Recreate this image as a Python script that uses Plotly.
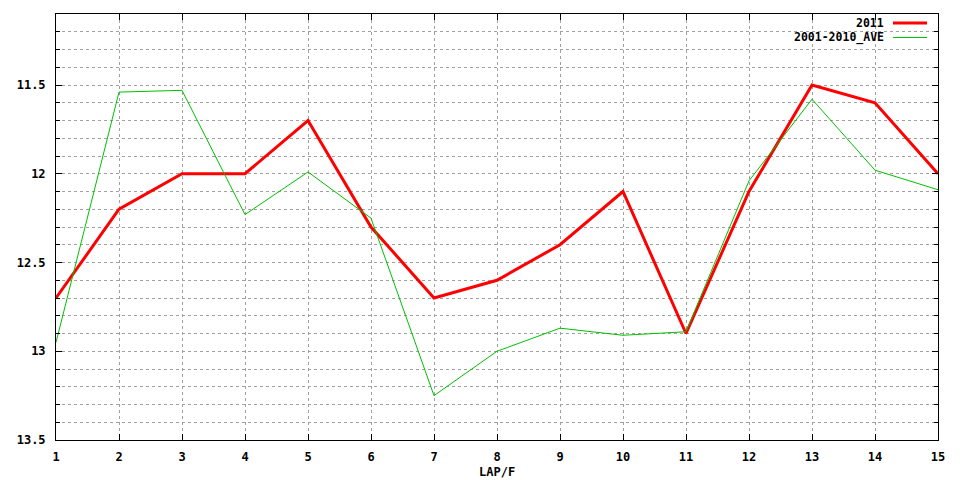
import plotly.graph_objects as go

laps = list(range(1, 16))
y2011 = [12.70, 12.20, 12.00, 12.00, 11.70, 12.30, 12.70, 12.60, 12.40, 12.10, 12.90, 12.10, 11.50, 11.60, 12.00]
yave = [12.95, 11.54, 11.53, 12.23, 11.99, 12.25, 13.25, 13.00, 12.87, 12.91, 12.89, 12.04, 11.58, 11.98, 12.09]
ytickvals = [11.5, 12.0, 12.5, 13.0, 13.5]
yticktext = ["11.5", "12", "12.5", "13", "13.5"]
series_names = ["2011", "2001-2010_AVE"]
series_colors = ["#ff0000", "#00c000"]
series_widths = [3, 1]

FONT = dict(family="DejaVu Sans Mono", size=12, color="black", weight="bold")
LFONT = dict(family="DejaVu Sans Mono", size=11.5, color="black", weight="bold")
GRID = "#a0a0a0"

# page has an 8px body margin; plot area target: x 56..938, y 13.5..440
L, R, T, B = 48, 30, 5.5, 48
PW = 960 - L - R
PH = 480 - T - B

fig = go.Figure()
for name, ys, col, w in zip(series_names, [y2011, yave], series_colors, series_widths):
    fig.add_trace(go.Scatter(x=laps, y=ys, mode="lines", name=name,
                             line=dict(color=col, width=w), showlegend=False))

# manual gnuplot-style legend (text right, sample on right)
for i, (name, col, w) in enumerate(zip(series_names, series_colors, series_widths)):
    ypix = 22.5 + i * 14.5
    yp = 1 - (ypix - 13.5) / PH
    fig.add_annotation(xref="paper", yref="paper", x=(885 - 56) / PW, y=yp,
                       text=name, showarrow=False, xanchor="right", yanchor="middle",
                       font=LFONT, borderpad=0)
    fig.add_shape(type="line", xref="paper", yref="paper",
                  x0=(893 - 56) / PW, x1=(927 - 56) / PW, y0=yp, y1=yp,
                  line=dict(color=col, width=w))

# x-axis title
fig.add_annotation(xref="paper", yref="paper", x=0.5, y=-32.5 / PH,
                   text="LAP/F", showarrow=False, xanchor="center", yanchor="middle",
                   font=FONT, borderpad=0)

fig.update_layout(
    width=960, height=480,
    margin=dict(l=L, r=R, t=T, b=B, autoexpand=False),
    paper_bgcolor="white", plot_bgcolor="white",
    font=FONT,
)
fig.update_xaxes(
    range=[1, 15], tickmode="linear", tick0=1, dtick=1,
    showline=True, linecolor="black", linewidth=1, mirror="ticks",
    ticks="inside", ticklen=6, tickcolor="black",
    showgrid=True, gridcolor=GRID, griddash="3px,3px", gridwidth=1,
    zeroline=False, tickfont=FONT, ticklabelstandoff=6,
)
fig.update_yaxes(
    range=[13.5, 11.1], tickmode="array", tickvals=ytickvals, ticktext=yticktext,
    showline=True, linecolor="black", linewidth=1, mirror="ticks",
    ticks="inside", ticklen=6, tickcolor="black",
    showgrid=True, gridcolor=GRID, griddash="3px,3px", gridwidth=1,
    zeroline=False, tickfont=FONT, ticklabelstandoff=7,
    minor=dict(dtick=0.1, tick0=11.1, showgrid=True, gridcolor=GRID,
               griddash="3px,3px", gridwidth=1, ticks="inside", ticklen=4,
               tickcolor="black"),
)

fig.write_html("out.html")
